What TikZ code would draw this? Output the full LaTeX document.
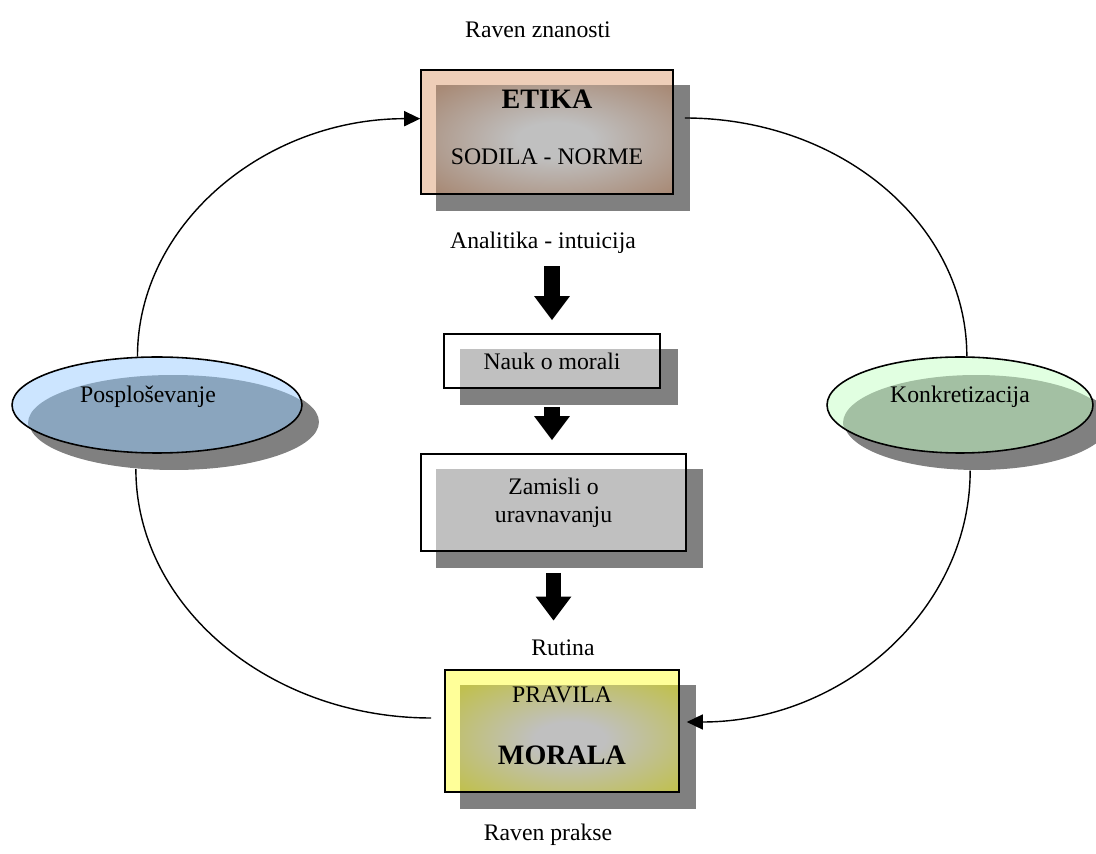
\documentclass[tikz,border=0pt]{standalone}
\usepackage{fontspec}
\setmainfont{Liberation Serif}
\usetikzlibrary{arrows.meta,calc,shapes.geometric,backgrounds,positioning}

\definecolor{shadowgrey}{RGB}{128,128,128}
\definecolor{silverc}{RGB}{192,192,192}
\definecolor{etikalight}{RGB}{238,206,184}
\definecolor{etikadark}{RGB}{168,138,118}
\definecolor{moralalight}{RGB}{255,255,153}
\definecolor{moraladark}{RGB}{192,192,80}
\definecolor{posplight}{RGB}{204,229,255}
\definecolor{pospdark}{RGB}{138,165,190}
\definecolor{konklight}{RGB}{225,255,225}
\definecolor{konkdark}{RGB}{163,192,163}

% grey centre fading to the box colour near the edges
\pgfdeclareradialshading{etikaglow}{\pgfpointorigin}{%
  color(0bp)=(silverc); color(8bp)=(silverc); color(34bp)=(etikadark); color(50bp)=(etikadark)}
\pgfdeclareradialshading{moralaglow}{\pgfpointorigin}{%
  color(0bp)=(silverc); color(8bp)=(silverc); color(34bp)=(moraladark); color(50bp)=(moraladark)}

\begin{document}
\begin{tikzpicture}[
    x=0.02cm, y=-0.02cm,
    font=\fontsize{13.5}{16}\selectfont,
    txt/.style        = {inner sep=0pt},
    bigtxt/.style     = {inner sep=0pt, font=\fontsize{16}{19}\selectfont\bfseries},
    frame/.style      = {draw, rectangle, line width=0.9pt, inner sep=0pt},
    oval/.style       = {draw, ellipse, line width=0.9pt, inner sep=0pt},
    cycleline/.style  = {line width=0.8pt},
    cyclearrow/.style = {cycleline, -{Triangle[length=3.2mm, width=3mm]}},
    blockarrow/.style = {line width=9pt, -{Triangle[length=4.8mm, width=6.8mm]}}
  ]
\useasboundingbox (0,0) rectangle (1096,854);

% ---------------------------------------------------------
% top and bottom level labels
% ---------------------------------------------------------
\node[txt] (znanost) at (538,30) {Raven znanosti};
\node[txt] (prakse)  at (548,835) {Raven prakse};

% ---------------------------------------------------------
% boxes (frames only; fills go on the background layer)
% ---------------------------------------------------------
\node[frame, minimum width=5.04cm, minimum height=2.48cm] (etika) at (547,132) {};
\node[bigtxt] (etikanaslov) at (547,99) {ETIKA};
\node[txt] (sodila) at (547,157) {SODILA - NORME};

\node[txt] (analitika) at (543,243) {Analitika - intuicija};

\node[frame, minimum width=4.32cm, minimum height=1.08cm] (nauk) at (552,361) {Nauk o morali};

\node[frame, align=center, minimum width=5.3cm, minimum height=1.94cm] (zamisli) at (553.5,502.5)
  {Zamisli o\\uravnavanju};

\node[txt] (rutina) at (563,648) {Rutina};

\node[frame, minimum width=4.68cm, minimum height=2.44cm] (morala) at (562,731) {};
\node[txt] (pravila) at (562,695) {PRAVILA};
\node[bigtxt] (moralatxt) at (562,755) {MORALA};

% ellipses at the sides
\node[oval, minimum width=5.8cm, minimum height=1.92cm] (posp) at (157,405) {};
\node[txt] (posptxt) at (148,397) {Posploševanje};
\node[oval, minimum width=5.32cm, minimum height=1.92cm] (konk) at (960,405) {};
\node[txt] (konktxt) at (960,397) {Konkretizacija};

% ---------------------------------------------------------
% shadows and fills
% ---------------------------------------------------------
\begin{scope}[on background layer]
  % ETIKA
  \fill[shadowgrey] ($(etika.north west)+(16,16)$) rectangle ($(etika.south east)+(16,16)$);
  \fill[etikalight] (etika.north west) rectangle (etika.south east);
  \shade[shading=etikaglow] ($(etika.north west)+(16,16)$) rectangle (etika.south east);

  % Nauk o morali
  \fill[shadowgrey] ($(nauk.north west)+(17,16)$) rectangle ($(nauk.south east)+(17,16)$);
  \fill[white] (nauk.north west) rectangle (nauk.south east);
  \fill[silverc] ($(nauk.north west)+(17,16)$) rectangle (nauk.south east);

  % Zamisli o uravnavanju
  \fill[shadowgrey] ($(zamisli.north west)+(16,16)$) rectangle ($(zamisli.south east)+(16,16)$);
  \fill[white] (zamisli.north west) rectangle (zamisli.south east);
  \fill[silverc] ($(zamisli.north west)+(16,16)$) rectangle (zamisli.south east);

  % MORALA
  \fill[shadowgrey] ($(morala.north west)+(16,16)$) rectangle ($(morala.south east)+(16,16)$);
  \fill[moralalight] (morala.north west) rectangle (morala.south east);
  \shade[shading=moralaglow] ($(morala.north west)+(16,16)$) rectangle (morala.south east);

  % Posplosevanje
  \fill[shadowgrey] ($(posp.center)+(17,17)$) ellipse [x radius=2.9cm, y radius=0.96cm];
  \fill[posplight] (posp.center) ellipse [x radius=2.9cm, y radius=0.96cm];
  \begin{scope}
    \clip (posp.center) ellipse [x radius=2.9cm, y radius=0.96cm];
    \fill[pospdark] ($(posp.center)+(16,18)$) ellipse [x radius=2.9cm, y radius=0.96cm];
  \end{scope}

  % Konkretizacija
  \fill[shadowgrey] ($(konk.center)+(17,17)$) ellipse [x radius=2.66cm, y radius=0.96cm];
  \fill[konklight] (konk.center) ellipse [x radius=2.66cm, y radius=0.96cm];
  \begin{scope}
    \clip (konk.center) ellipse [x radius=2.66cm, y radius=0.96cm];
    \fill[konkdark] ($(konk.center)+(16,18)$) ellipse [x radius=2.66cm, y radius=0.96cm];
  \end{scope}
\end{scope}

% ---------------------------------------------------------
% block arrows down the middle
% ---------------------------------------------------------
\draw[blockarrow, shorten <=2.4mm, shorten >=2.6mm] (analitika.south -| nauk.north) -- (nauk.north);
\draw[blockarrow, shorten <=3.6mm, shorten >=2.6mm] (nauk.south) -- (zamisli.north -| nauk.south);
\draw[blockarrow, shorten <=4.2mm, shorten >=3.8mm] (zamisli.south) -- (rutina.north -| zamisli.south);

% ---------------------------------------------------------
% the cycle
% ---------------------------------------------------------
\draw[cyclearrow] (posp.112) .. controls +(0,-132) and +(-156,0) .. (etika.174);
\draw[cycleline] ($(etika.east)+(11,-14)$) .. controls +(156,0) and +(0,-132) .. (konk.82);
\draw[cyclearrow] ($(konk.262)+(17,17)$) .. controls +(0,139) and +(156,0) .. ($(morala.east)+(7,-9)$);
\draw[cycleline] ($(posp.231)+(17,17)$) .. controls +(0,137) and +(-162,0) .. ($(morala.west)+(-13,-13)$);

\end{tikzpicture}
\end{document}
